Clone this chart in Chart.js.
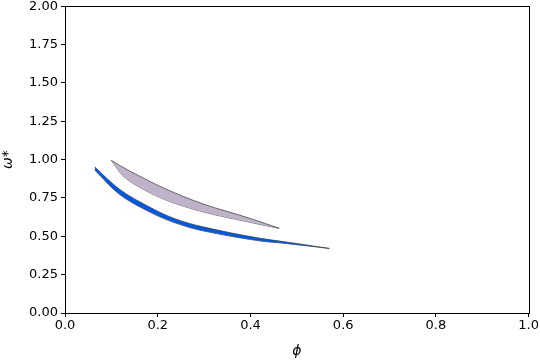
<!DOCTYPE html>
<html>
<head>
<meta charset="utf-8">
<script src="https://cdn.jsdelivr.net/npm/chart.js@4/dist/chart.umd.min.js"></script>
<style>
html,body{margin:0;padding:0;background:#fff;}
#wrap{width:540px;height:360px;}
</style>
</head>
<body>
<div id="wrap"><canvas id="c" width="540" height="360"></canvas></div>
<script>
// Blue band (phi vs omega*)
const blueX     = [0.064, 0.118, 0.183, 0.237, 0.297, 0.415, 0.48, 0.570];
const blueUpper = [0.953, 0.806, 0.690, 0.615, 0.562, 0.490, 0.462, 0.421];
const blueLower = [0.932, 0.772, 0.658, 0.588, 0.536, 0.472, 0.452, 0.421];
// Grey-violet band
const greyX     = [0.100, 0.125, 0.158, 0.215, 0.297, 0.398, 0.462];
const greyUpper = [0.995, 0.950, 0.897, 0.812, 0.712, 0.618, 0.552];
const greyLower = [0.995, 0.895, 0.825, 0.740, 0.660, 0.592, 0.552];
// Ticks
const xTicks = [0.0, 0.2, 0.4, 0.6, 0.8, 1.0];
const yTicks = [0.00, 0.25, 0.50, 0.75, 1.00, 1.25, 1.50, 1.75, 2.00];

const pts = (xs, ys) => xs.map((x, i) => ({x: x, y: ys[i]}));
const FONT = 'DejaVu Sans';

const frame = {
  id: 'frame',
  afterDraw(chart) {
    const a = chart.chartArea, ctx = chart.ctx;
    ctx.save();
    ctx.strokeStyle = '#000';
    ctx.lineWidth = 1;
    ctx.strokeRect(Math.round(a.left) + 0.5, Math.round(a.top) + 0.5,
                   Math.round(a.right - a.left), Math.round(a.bottom - a.top));
    ctx.restore();
  }
};

const lineBase = {
  pointRadius: 0,
  borderColor: '#333',
  borderWidth: 0.7,
  tension: 0.35
};

new Chart(document.getElementById('c'), {
  type: 'line',
  data: {
    datasets: [
      Object.assign({}, lineBase, {data: pts(greyX, greyUpper), backgroundColor: '#c0b2c8', fill: '+1'}),
      Object.assign({}, lineBase, {data: pts(greyX, greyLower), fill: false}),
      Object.assign({}, lineBase, {data: pts(blueX, blueUpper), backgroundColor: '#0757dd', fill: '+1'}),
      Object.assign({}, lineBase, {data: pts(blueX, blueLower), fill: false})
    ]
  },
  options: {
    responsive: false,
    animation: false,
    layout: {padding: {left: 0, right: 8, top: 2, bottom: 0}},
    plugins: {legend: {display: false}, tooltip: {enabled: false}},
    scales: {
      x: {
        type: 'linear', min: 0, max: 1,
        afterBuildTicks(s) { s.ticks = xTicks.map(v => ({value: v})); },
        afterFit(s) { s.height = 47; },
        ticks: {color: '#000', font: {family: FONT, size: 13}, padding: 1, maxRotation: 0,
                callback: v => Number(v).toFixed(1)},
        grid: {display: true, drawOnChartArea: false, drawTicks: true, tickLength: 4, color: '#000'},
        border: {display: true, color: '#000'},
        title: {display: true, text: 'ϕ', color: '#000', font: {family: FONT, size: 14, style: 'italic'}, padding: {top: 3, bottom: 0}}
      },
      y: {
        type: 'linear', min: 0, max: 2,
        afterBuildTicks(s) { s.ticks = yTicks.map(v => ({value: v})); },
        afterFit(s) { s.width = 65; },
        ticks: {color: '#000', font: {family: FONT, size: 13, lineHeight: 0.5}, padding: 3,
                callback: v => Number(v).toFixed(2)},
        grid: {display: true, drawOnChartArea: false, drawTicks: true, tickLength: 4, color: '#000'},
        border: {display: true, color: '#000'},
        title: {display: true, text: 'ω*', color: '#000', font: {family: FONT, size: 14, style: 'italic'}, padding: {top: 0, bottom: 4}}
      }
    }
  },
  plugins: [frame]
});
</script>
</body>
</html>
